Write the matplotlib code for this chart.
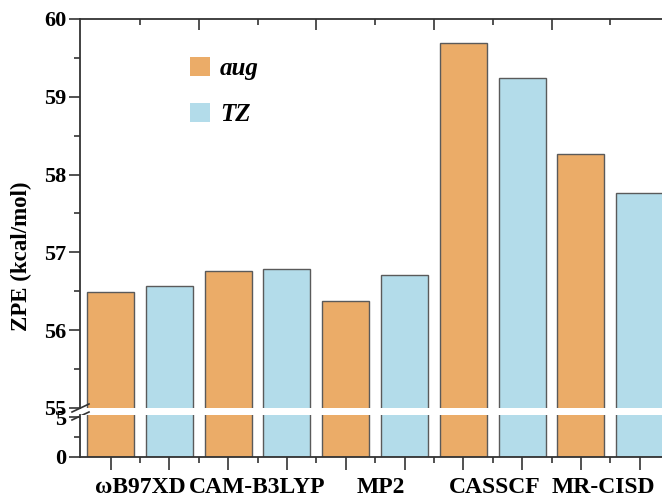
import numpy as np
import matplotlib
matplotlib.use("Agg")
import matplotlib.pyplot as plt
from matplotlib.patches import Patch

# ZPE values (kcal/mol)
methods = ["ωB97XD", "CAM-B3LYP", "MP2", "CASSCF", "MR-CISD"]
zpe_aug = [56.49, 56.76, 56.37, 59.69, 58.26]
zpe_tz = [56.57, 56.79, 56.71, 59.24, 57.76]
series_names = ["aug", "TZ"]
label_shift = [0.0, 0.0, 0.1, 0.03, -0.12]

C_AUG = "#EBAC68"
C_TZ = "#B3DCEA"
EDGE = "#5a5a5a"
AX = "#333333"

plt.rcParams["font.family"] = ["Liberation Serif", "DejaVu Serif"]
plt.rcParams["font.weight"] = "bold"

fig = plt.figure(figsize=(6.62, 4.99), dpi=100)
W, H = 662, 499
left, right = 80, 668
ax_top = fig.add_axes([left / W, (H - 408) / H, (right - left) / W, (408 - 19) / H])
ax_bot = fig.add_axes([left / W, (H - 457) / H, (right - left) / W, (457 - 415) / H])

n = len(methods)
x_aug = np.arange(n) * 2
x_tz = x_aug + 1
for ax in (ax_top, ax_bot):
    ax.bar(x_aug, zpe_aug, width=0.8, color=C_AUG, edgecolor=EDGE, linewidth=1.0)
    ax.bar(x_tz, zpe_tz, width=0.8, color=C_TZ, edgecolor=EDGE, linewidth=1.0)
    ax.set_xlim(-0.52, 2 * n - 0.52)
    ax.spines["right"].set_visible(False)
    for s in ax.spines.values():
        s.set_color(AX)
        s.set_linewidth(1.3)

ax_top.set_ylim(55, 60)
ax_bot.set_ylim(0, 5.3)
ax_top.spines["bottom"].set_visible(False)
ax_bot.spines["top"].set_visible(False)

ax_top.set_yticks(np.arange(55, 61, 1))
ax_top.set_yticks(np.arange(55.5, 60, 1), minor=True)
ax_bot.set_yticks([0, 5])
ax_bot.set_yticks([2.5], minor=True)
for ax in (ax_top, ax_bot):
    ax.tick_params(axis="y", which="major", direction="out", length=8, width=1.2,
                   color=AX, labelsize=16, pad=2)
    ax.tick_params(axis="y", which="minor", direction="out", length=4, width=1.2, color=AX)

ax_top.tick_params(axis="x", which="both", bottom=False, labelbottom=False)
ax_top.set_xticks([])

# top axis ticks at group borders
tw = ax_top.twiny()
tw.set_xlim(ax_top.get_xlim())
tw.set_xticks(np.arange(1.5, 2 * n - 1, 2))
tw.set_xticks(np.arange(0.5, 2 * n - 1, 2), minor=True)
tw.tick_params(axis="x", which="major", direction="in", length=8, width=1.2, color=AX, labeltop=False)
tw.tick_params(axis="x", which="minor", direction="in", length=4, width=1.2, color=AX)
for s in tw.spines.values():
    s.set_visible(False)

# bottom axis ticks
ax_bot.set_xticks(np.arange(2 * n))
ax_bot.set_xticks(np.arange(0.5, 2 * n - 1, 1), minor=True)
ax_bot.tick_params(axis="x", which="major", direction="out", length=9, width=1.2, color=AX, labelbottom=False)
ax_bot.tick_params(axis="x", which="minor", direction="out", length=4.5, width=1.2, color=AX)

trans = matplotlib.transforms.blended_transform_factory(ax_bot.transData, ax_bot.transAxes)
for i, m in enumerate(methods):
    ax_bot.text(2 * i + 0.5 + label_shift[i], -0.72, m, transform=trans,
                ha="center", va="center", fontsize=17, fontweight="bold")

ax_top.set_ylabel("ZPE (kcal/mol)", fontsize=16.5, fontweight="bold")
ax_top.yaxis.set_label_coords(-0.082, 0.39)

# break marks on the y axis
kw = dict(transform=ax_top.transAxes, color=AX, lw=1.2, clip_on=False)
ax_top.plot([-0.0136, 0.0153], [-0.0103, 0.0103], **kw)
ax_top.plot([-0.0136, 0.0153], [-0.0308, -0.0103], **kw)

handles = [Patch(facecolor=C_AUG, edgecolor="none"), Patch(facecolor=C_TZ, edgecolor="none")]
ax_top.legend(handles, series_names, loc="upper left",
              bbox_to_anchor=(190 / W, 1 - 57 / H), bbox_transform=fig.transFigure,
              frameon=False, borderpad=0, borderaxespad=0, handlelength=0.8, handleheight=0.78,
              handletextpad=0.4, labelspacing=0.93,
              prop={"family": "Liberation Serif", "weight": "bold", "style": "italic", "size": 18})

fig.savefig("out.png", dpi=100)
